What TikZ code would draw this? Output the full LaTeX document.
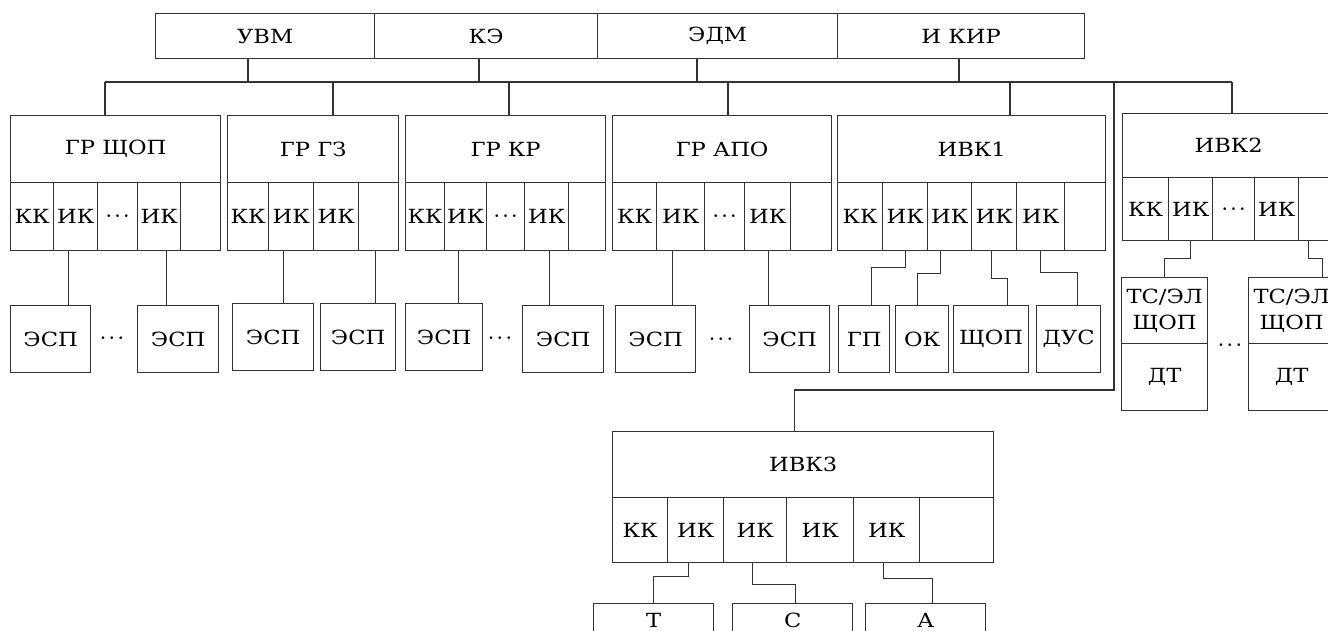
\documentclass[tikz,border=0pt]{standalone}
\usepackage{fontspec}
\setmainfont{DejaVu Serif}[FakeStretch=1.16]
\newcommand{\cdts}{{\fontsize{17}{20}\selectfont\boldmath$\cdots$}}
\begin{document}
\begin{tikzpicture}[x=1pt,y=-1pt]
    % Styles
    \tikzset{
      cellbox/.style 2 args={draw=black!80, line width=1.3pt, anchor=north west,
        inner sep=0pt, minimum width=#1pt, minimum height=#2pt, align=center,
        font=\fontsize{19.5}{26}\selectfont},
      link/.style={draw=black!80, line width=1.3pt},
      dotsnode/.style={inner sep=0pt}
    }
    \useasboundingbox (0,0) rectangle (1328,630);
    \clip (0,0) rectangle (1328,630);

    % --- Top bar ---
    \node[cellbox={219}{45}] (uvm) at (155,13) {УВМ};
    \node[cellbox={223}{45}] (ke) at (374,13) {КЭ};
    \node[cellbox={240}{45}] (edm) at (597,13) {ЭДМ};
    \node[cellbox={247}{45}] (ikir) at (837,13) {И КИР};

    % --- Common bus ---
    \coordinate (busL) at (105,82);
    \coordinate (busR) at (1232,82);
    \draw[link] (busL) -- (busR);
    \foreach \x/\n in {248/uvm, 479/ke, 697/edm, 959/ikir}
      \draw[link] (\x,82) -- (\x,82 |- \n.south);

    % --- Level 1: ГР ЩОП ---
    \node[cellbox={210}{67}] (g1) at (10,115) {ГР ЩОП};
    \node[cellbox={43}{68}] (g1a) at (10,182) {КК};
    \node[cellbox={44}{68}] (g1b) at (53,182) {ИК};
    \node[cellbox={40}{68}] (g1c) at (97,182) {\cdts};
    \node[cellbox={43}{68}] (g1d) at (137,182) {ИК};
    \node[cellbox={40}{68}] (g1e) at (180,182) {};

    % --- Level 1: ГР ГЗ ---
    \node[cellbox={171}{67}] (g2) at (227,115) {ГР ГЗ};
    \node[cellbox={41}{68}] (g2a) at (227,182) {КК};
    \node[cellbox={45}{68}] (g2b) at (268,182) {ИК};
    \node[cellbox={45}{68}] (g2c) at (313,182) {ИК};
    \node[cellbox={40}{68}] (g2d) at (358,182) {};

    % --- Level 1: ГР КР ---
    \node[cellbox={200}{67}] (g3) at (405,115) {ГР КР};
    \node[cellbox={39}{68}] (g3a) at (405,182) {КК};
    \node[cellbox={42}{68}] (g3b) at (444,182) {ИК};
    \node[cellbox={38}{68}] (g3c) at (486,182) {\cdts};
    \node[cellbox={44}{68}] (g3d) at (524,182) {ИК};
    \node[cellbox={37}{68}] (g3e) at (568,182) {};

    % --- Level 1: ГР АПО ---
    \node[cellbox={219}{67}] (g4) at (612,115) {ГР АПО};
    \node[cellbox={44}{68}] (g4a) at (612,182) {КК};
    \node[cellbox={48}{68}] (g4b) at (656,182) {ИК};
    \node[cellbox={40}{68}] (g4c) at (704,182) {\cdts};
    \node[cellbox={46}{68}] (g4d) at (744,182) {ИК};
    \node[cellbox={41}{68}] (g4e) at (790,182) {};

    % --- Level 1: ИВК1 ---
    \node[cellbox={268}{67}] (v1) at (837,115) {ИВК1};
    \node[cellbox={45}{68}] (v1a) at (837,182) {КК};
    \node[cellbox={45}{68}] (v1b) at (882,182) {ИК};
    \node[cellbox={44}{68}] (v1c) at (927,182) {ИК};
    \node[cellbox={45}{68}] (v1d) at (971,182) {ИК};
    \node[cellbox={48}{68}] (v1e) at (1016,182) {ИК};
    \node[cellbox={41}{68}] (v1f) at (1064,182) {};

    % --- Level 1: ИВК2 ---
    \node[cellbox={212}{64}] (v2) at (1122,113) {ИВК2};
    \node[cellbox={46}{63}] (v2a) at (1122,177) {КК};
    \node[cellbox={44}{63}] (v2b) at (1168,177) {ИК};
    \node[cellbox={42}{63}] (v2c) at (1212,177) {\cdts};
    \node[cellbox={44}{63}] (v2d) at (1254,177) {ИК};
    \node[cellbox={36}{63}] (v2e) at (1298,177) {};

    % Drops from bus
    \foreach \x/\n in {105/g1, 333/g2, 509/g3, 728/g4, 1010/v1, 1232/v2}
      \draw[link] (\x,82) -- (\x,82 |- \n.north);

    % --- Level 2: ЭСП ---
    \node[cellbox={80}{67}] (e1) at (10,305) {ЭСП};
    \node[cellbox={81}{67}] (e2) at (137,305) {ЭСП};
    \node[cellbox={81}{67}] (e3) at (232,303) {ЭСП};
    \node[cellbox={75}{67}] (e4) at (320,303) {ЭСП};
    \node[cellbox={77}{67}] (e5) at (405,303) {ЭСП};
    \node[cellbox={81}{67}] (e6) at (522,305) {ЭСП};
    \node[cellbox={80}{67}] (e7) at (615,305) {ЭСП};
    \node[cellbox={80}{67}] (e8) at (749,305) {ЭСП};
    \node[dotsnode] (d1) at (112,338) {\cdts};
    \node[dotsnode] (d2) at (500,338) {\cdts};
    \node[dotsnode] (d3) at (721,339) {\cdts};

    \draw[link] ([xshift=18]e1.north) -- ([xshift=18]e1.north |- g1b.south);
    \draw[link] ([xshift=-11.5]e2.north) -- ([xshift=-11.5]e2.north |- g1d.south);
    \draw[link] ([xshift=10.5]e3.north) -- ([xshift=10.5]e3.north |- g2b.south);
    \draw[link] ([xshift=17.5]e4.north) -- ([xshift=17.5]e4.north |- g2d.south);
    \draw[link] ([xshift=14.5]e5.north) -- ([xshift=14.5]e5.north |- g3b.south);
    \draw[link] ([xshift=-13.5]e6.north) -- ([xshift=-13.5]e6.north |- g3d.south);
    \draw[link] ([xshift=17]e7.north) -- ([xshift=17]e7.north |- g4b.south);
    \draw[link] ([xshift=-21]e8.north) -- ([xshift=-21]e8.north |- g4d.south);

    % --- Level 2: ИВК1 devices ---
    \node[cellbox={51}{67}] (gp) at (838,305) {ГП};
    \node[cellbox={53}{67}] (ok) at (895,305) {ОК};
    \node[cellbox={75}{67}] (shop) at (953,305) {ЩОП};
    \node[cellbox={64}{67}] (dus) at (1036,305) {ДУС};

    \draw[link] (v1b.south) -- ++(0,16) -| ([xshift=7.5]gp.north);
    \draw[link] ([xshift=-9]v1c.south) -- ++(0,22) -| ([xshift=-4.5]ok.north);
    \draw[link] ([xshift=-2.5]v1d.south) -- ++(0,27) -| ([xshift=16.5]shop.north);
    \draw[link] (v1e.south) -- ++(0,21) -| ([xshift=9]dus.north);

    % --- Level 2: ИВК2 devices ---
    \node[cellbox={86}{66}] (ts1) at (1121,277) {ТС/ЭЛ\\ЩОП};
    \node[cellbox={86}{67}] (dt1) at (1121,343) {ДТ};
    \node[cellbox={86}{66}] (ts2) at (1248,277) {ТС/ЭЛ\\ЩОП};
    \node[cellbox={86}{67}] (dt2) at (1248,343) {ДТ};
    \node[dotsnode] (d4) at (1230,345) {\cdts};

    \draw[link] (v2b.south) -- ++(0,17) -| (ts1.north);
    \draw[link] ([xshift=-8]v2e.south) -- ++(0,17) -| ([xshift=31]ts2.north);

    % --- ИВК3 ---
    \node[cellbox={381}{66}] (v3) at (612,431) {ИВК3};
    \node[cellbox={55}{65}] (v3a) at (612,497) {КК};
    \node[cellbox={56}{65}] (v3b) at (667,497) {ИК};
    \node[cellbox={63}{65}] (v3c) at (723,497) {ИК};
    \node[cellbox={67}{65}] (v3d) at (786,497) {ИК};
    \node[cellbox={66}{65}] (v3e) at (853,497) {ИК};
    \node[cellbox={74}{65}] (v3f) at (919,497) {};

    \coordinate (t9) at (1114,82);
    \draw[link] (t9) -- ++(0,308) -| ([xshift=-8.5]v3.north);

    % --- ИВК3 devices ---
    \node[cellbox={120}{34}] (t) at (593,603) {Т};
    \node[cellbox={120}{34}] (s) at (732,603) {С};
    \node[cellbox={120}{34}] (a) at (865,603) {А};

    \draw[link] ([xshift=-7]v3b.south) -- ++(0,13) -| (t.north);
    \draw[link] ([xshift=-2.5]v3c.south) -- ++(0,21) -| ([xshift=3]s.north);
    \draw[link] ([xshift=-3]v3e.south) -- ++(0,15) -| ([xshift=7]a.north);

\end{tikzpicture}
\end{document}
